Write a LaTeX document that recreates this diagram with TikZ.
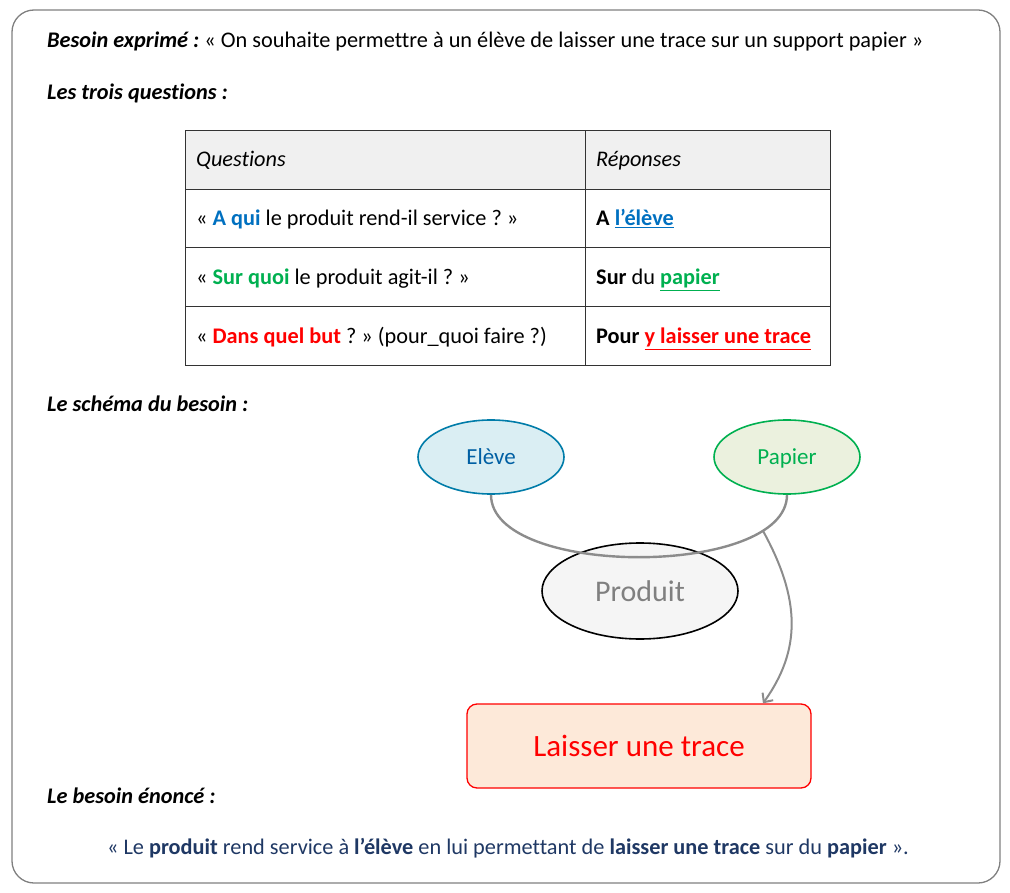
\documentclass[tikz,border=0pt]{standalone}
\usepackage{fontspec}
\setmainfont{Carlito}[Ligatures={NoCommon}]
\usetikzlibrary{shapes.geometric,arrows.meta}
\definecolor{bleu}{HTML}{0070C0}
\definecolor{vert}{HTML}{00B050}
\definecolor{rouge}{HTML}{FF0000}
\definecolor{marine}{HTML}{1F3864}
\begin{document}
\frenchspacing
\begin{tikzpicture}[x=1pt,y=-1pt]
    \tikzstyle{txt}=[anchor=base west, inner sep=0pt, font=\fontsize{22.3}{26}\selectfont]
    \tikzstyle{cell}=[draw=black!80, line width=0.8pt, anchor=north west, minimum height=58.7pt]
    \tikzstyle{bulle}=[ellipse, line width=1.6pt, minimum width=146pt, minimum height=74pt,
      text height=15pt, text depth=0pt, font=\fontsize{23}{27}\selectfont]
    \useasboundingbox (0,0) rectangle (1010,893);
    \draw[black!50, line width=1.3pt, rounded corners=22pt] (12,10) rectangle (1000,883);
    % titres
    \node[txt] (t1) at (47,48) {\textbf{\textit{Besoin exprimé :}} « On souhaite permettre à un élève de laisser une trace sur un support papier »};
    \node[txt] (t2) at (47,100) {\textbf{\textit{Les trois questions :}}};
    \node[txt] (t3) at (47,411) {\textbf{\textit{Le schéma du besoin :}}};
    \node[txt] (t4) at (47,803) {\textbf{\textit{Le besoin énoncé :}}};
    % tableau
    \node[cell, fill=black!6, minimum width=400pt] (q0) at (185,130) {};
    \node[cell, fill=black!6, minimum width=245pt] (r0) at (585,130) {};
    \foreach \y/\n in {188.7/1,247.4/2,306.1/3} {
      \node[cell, minimum width=400pt] (q\n) at (185,\y) {};
      \node[cell, minimum width=245pt] (r\n) at (585,\y) {};
    }
    \node[txt] (lq0) at (196,167) {\textit{Questions}};
    \node[txt] (lr0) at (596,167) {\textit{Réponses}};
    \node[txt] (lq1) at (196,226) {« \textcolor{bleu}{\textbf{A qui}} le produit rend-il service ? »};
    \node[txt] (lr1) at (596,226) {\textbf{A \textcolor{bleu}{\underline{l’élève}}}};
    \node[txt] (lq2) at (196,285) {« \textcolor{vert}{\textbf{Sur quoi}} le produit agit-il ? »};
    \node[txt] (lr2) at (596,285) {\textbf{Sur} du \textbf{\textcolor{vert}{\underline{papier}}}};
    \node[txt] (lq3) at (196,344) {« \textcolor{rouge}{\textbf{Dans quel but}} ? » (pour\_quoi faire ?)};
    \node[txt] (lr3) at (596,344) {\textbf{Pour \textcolor{rouge}{\underline{y laisser une trace}}}};
    % schema
    \node[bulle, draw=bleu!70!cyan!80!black, fill={rgb,255:red,218;green,238;blue,243}, text=bleu!85!black] (el) at (491,457) {Elève};
    \node[bulle, draw=vert, fill={rgb,255:red,235;green,241;blue,222}, text=vert] (pa) at (787,457) {Papier};
    \node[bulle, draw=black, fill=black!4, text=black!50, minimum width=196pt, minimum height=96pt,
      text height=21pt, text depth=1pt, font=\fontsize{30}{34}\selectfont] (pr) at (640,591) {Produit};
    \node[draw=rouge, line width=1.3pt, fill={rgb,255:red,253;green,233;blue,217}, rounded corners=10pt, minimum width=344pt,
      minimum height=84pt, text=rouge, font=\fontsize{31}{35}\selectfont] (tr) at (639,746) {Laisser une trace};
    \draw[black!45, line width=2.4pt] (el.south) .. controls (491,578) and (787,578) .. (pa.south)
      coordinate[pos=0.825] (ar);
    \draw[black!45, line width=2pt, -{Straight Barb[length=7pt,width=13pt]}] (ar) .. controls (801,600) and (801,650) .. (ar |- tr.north);
    % phrase finale
    \node[txt, anchor=base, text=marine] (fin) at (508,854) {« Le \textbf{produit} rend service à \textbf{l’élève} en lui permettant de \textbf{laisser une trace} sur du \textbf{papier} ».};
\end{tikzpicture}
\end{document}
